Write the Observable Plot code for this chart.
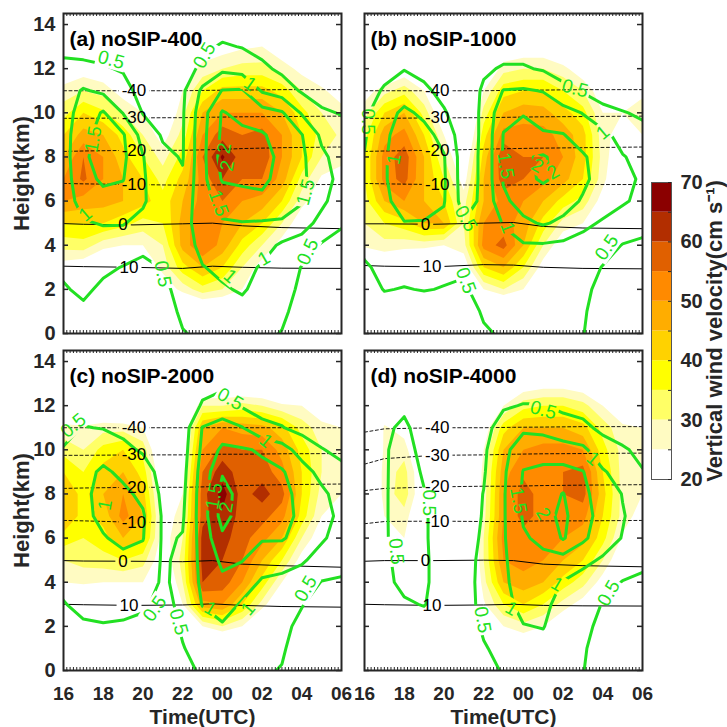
<!DOCTYPE html>
<html><head><meta charset="utf-8">
<script src="https://cdn.jsdelivr.net/npm/d3@7"></script>
<script src="https://cdn.jsdelivr.net/npm/@observablehq/plot@0.6"></script>
<style>
body{margin:0;background:#fff;}
#wrap{position:relative;width:727px;height:727px;overflow:hidden;background:#fff;font-family:"Liberation Sans",Arial,Helvetica,sans-serif;}
#wrap svg{position:absolute;overflow:visible;}
</style></head><body><div id="wrap"></div>
<script>
// ---------------- grid axes (hour of day, 24+ = next day; height km) ----------------
const times = [16,17,18,19,20,21,22,23,24,25,26,27,28,29,30];
const gridHeights = [0,1,2,3,4,5,6,7,8,9,10,11,12,13,14,15];

// ---------------- colour levels ----------------
const fillLevels = [25,30,35,40,45,50,55,60,65];
const fillColors = ["#ffffff","#fffbc2","#ffff66","#ffff00","#ffd200","#ffad00","#ff8a00","#e06000","#b22e00","#8b0000"];
const colorbarLevels = [20,25,30,35,40,45,50,55,60,65,70];
const colorbarLabels = [20,30,40,50,60,70];
const greenLevels = [0.5,1,1.5,2];

// ---------------- tick labels ----------------
const xTickTimes = [16,18,20,22,24,26,28,30];
const xTickLabels = ["16","18","20","22","00","02","04","06"];
const yTicks = [0,2,4,6,8,10,12,14];
const panelNames = ["(a) noSIP-400","(b) noSIP-1000","(c) noSIP-2000","(d) noSIP-4000"];

// ---------------- vertical wind velocity (cm/s); one list per hour, heights 0..15 km ----------------
const wA = [
 [5,8,12,22,32,40,50,50,45,40,33,27,20,10,5,0],
 [5,8,10,20,33,40,48,56,55,47,40,30,22,12,5,0],
 [5,6,8,15,27,40,47,50,50,45,36,28,20,10,5,0],
 [0,5,8,14,25,37,45,45,42,38,30,22,15,8,0,0],
 [0,5,10,18,25,33,42,40,35,30,25,18,12,5,0,0],
 [0,8,20,27,30,35,37,33,28,22,18,14,10,5,0,0],
 [5,12,27,38,47,47,45,42,37,32,28,25,20,10,0,0],
 [5,15,33,45,55,55,52,52,55,50,45,35,27,20,8,0],
 [5,15,30,40,48,50,55,60,66,58,50,42,30,22,10,0],
 [5,15,25,30,38,45,50,55,57,55,50,42,32,24,12,0],
 [0,10,18,22,30,40,48,55,58,57,50,42,32,25,12,0],
 [0,5,10,15,22,30,40,48,50,50,45,38,28,20,10,0],
 [0,0,5,10,15,20,27,33,40,40,37,30,23,15,5,0],
 [0,0,0,5,10,15,20,24,30,33,30,26,20,12,5,0],
 [0,0,0,5,8,12,18,22,27,29,27,22,15,10,5,0]];
const wB = [
 [0,0,5,15,26,30,33,35,35,33,28,22,10,5,0,0],
 [0,0,5,18,28,35,45,52,52,48,40,28,15,5,0,0],
 [0,0,5,15,27,38,50,57,58,52,45,33,20,5,0,0],
 [0,0,5,12,27,45,45,45,45,40,33,25,12,0,0,0],
 [0,0,5,10,25,45,40,35,30,25,18,10,5,0,0,0],
 [0,0,10,20,28,30,28,22,18,12,8,5,0,0,0,0],
 [0,8,25,40,52,50,45,45,42,38,32,25,15,5,0,0],
 [0,10,30,45,57,52,52,58,60,52,45,38,28,18,5,0],
 [0,8,25,35,45,48,50,55,55,52,48,40,30,20,5,0],
 [0,0,12,22,30,38,45,52,55,52,47,40,30,20,5,0],
 [0,0,5,12,20,28,38,47,50,48,42,35,27,15,5,0],
 [0,0,0,8,16,25,33,40,42,42,37,30,20,10,0,0],
 [0,0,0,0,5,12,22,27,28,27,25,20,12,5,0,0],
 [0,0,0,0,0,5,10,15,18,22,25,22,15,5,0,0],
 [0,0,0,0,0,5,10,15,20,25,27,24,15,5,0,0]];
const wC = [
 [0,0,5,15,25,30,38,45,45,40,33,27,15,5,0,0],
 [0,0,5,15,26,32,35,38,38,35,30,26,15,5,0,0],
 [0,0,5,12,25,33,38,42,45,42,37,28,15,5,0,0],
 [0,0,5,12,25,35,45,52,50,45,40,28,12,0,0,0],
 [0,0,5,10,25,32,42,45,42,38,33,25,10,0,0,0],
 [0,0,0,5,15,20,22,22,20,18,15,10,5,0,0,0],
 [0,0,10,25,30,32,30,27,25,22,20,18,10,5,0,0],
 [0,5,25,48,60,62,62,58,58,55,50,45,30,15,0,0],
 [0,8,30,50,58,60,62,64,67,63,57,50,30,15,5,0],
 [0,5,25,40,50,55,57,58,58,57,55,48,32,15,5,0],
 [0,0,12,28,38,45,52,57,62,58,55,47,30,15,5,0],
 [0,0,5,15,25,35,45,52,57,52,48,42,26,12,5,0],
 [0,0,0,8,15,22,30,38,40,40,38,33,25,15,0,0],
 [0,0,0,5,10,15,20,25,28,30,30,27,20,10,0,0],
 [0,0,0,0,5,10,15,22,25,28,28,25,18,8,0,0]];
const wD = [
 [0,0,0,0,0,0,5,10,12,12,10,5,0,0,0,0],
 [0,0,0,0,0,0,22,25,27,27,26,26,18,0,0,0],
 [0,0,0,0,0,5,25,28,33,32,28,22,10,0,0,0],
 [0,0,0,0,0,0,8,15,18,18,12,5,0,0,0,0],
 [0,0,0,0,0,0,0,0,0,0,0,0,0,0,0,0],
 [0,0,0,0,5,8,10,10,10,8,5,0,0,0,0,0],
 [0,5,18,24,28,30,30,28,27,27,25,20,10,0,0,0],
 [0,18,25,35,45,50,52,50,50,48,45,38,25,10,0,0],
 [0,18,28,40,48,52,53,57,57,54,50,45,33,20,5,0],
 [0,8,25,35,45,50,52,53,53,53,52,45,35,22,5,0],
 [0,5,18,28,38,45,50,52,55,55,52,45,35,22,5,0],
 [0,0,10,22,32,40,47,52,57,57,50,42,32,20,5,0],
 [0,0,5,12,22,30,37,40,42,40,37,33,25,15,0,0],
 [0,0,0,5,12,18,24,28,28,28,28,26,20,10,0,0],
 [0,0,0,0,5,10,18,22,25,27,27,25,18,8,0,0]];

// ---------------- green contour field; one list per hour, heights 0..15 km ----------------
const gA = [
 [0.2,0.3,0.45,0.6,0.7,0.75,0.8,0.8,0.8,0.8,0.8,0.75,0.6,0.4,0.2,0],
 [0.2,0.4,0.6,0.75,0.9,0.97,1.15,1.3,1.4,1.35,1.2,1.05,0.6,0.35,0.2,0],
 [0.1,0.2,0.4,0.6,0.85,1.02,1.3,1.6,1.75,1.7,1.55,0.9,0.55,0.3,0.15,0],
 [0.1,0.2,0.3,0.48,0.8,1.02,1.3,1.52,1.6,1.55,0.98,0.7,0.45,0.3,0.1,0],
 [0.1,0.2,0.3,0.4,0.6,0.9,1.05,1.05,1.02,0.8,0.48,0.3,0.2,0.1,0.1,0],
 [0.1,0.25,0.4,0.52,0.6,0.7,0.75,0.7,0.6,0.45,0.3,0.2,0.15,0.1,0,0],
 [0.47,0.6,0.65,0.7,0.75,0.8,0.7,0.55,0.47,0.46,0.45,0.42,0.3,0.1,0,0],
 [0.6,0.7,0.85,0.98,1.15,1.25,1.3,1.35,1.35,1.35,1.3,1.1,0.6,0.4,0.2,0],
 [0.6,0.8,0.95,1.1,1.3,1.45,1.7,2.05,2.2,2.1,2.05,1.52,0.9,0.55,0.3,0],
 [0.6,0.85,1.05,1.15,1.3,1.48,1.8,2.1,2.2,2.15,1.8,1.55,0.8,0.48,0.25,0],
 [0.6,0.7,0.85,0.95,1.2,1.45,1.9,2.1,2.15,2.05,1.7,0.95,0.6,0.35,0.2,0],
 [0.48,0.6,0.7,0.8,0.92,1.45,1.7,1.85,1.9,1.8,1.55,0.75,0.4,0.3,0.15,0],
 [0.2,0.3,0.4,0.48,0.8,1.2,1.55,1.6,1.6,1.52,0.95,0.45,0.3,0.2,0.1,0],
 [0.1,0.15,0.2,0.3,0.45,0.85,1.1,1.2,1.1,0.9,0.55,0.35,0.2,0.1,0,0],
 [0.1,0.1,0.15,0.2,0.35,0.55,0.75,0.85,0.8,0.65,0.48,0.3,0.15,0.1,0,0]];
const gB = [
 [0.1,0.2,0.3,0.45,0.6,0.65,0.65,0.6,0.52,0.45,0.4,0.3,0.2,0.1,0,0],
 [0.1,0.3,0.52,0.6,0.7,0.8,0.9,0.95,0.95,0.9,0.8,0.55,0.35,0.2,0.1,0],
 [0.1,0.25,0.48,0.65,0.85,0.98,1.2,1.3,1.3,1.25,1.1,0.75,0.48,0.3,0.1,0],
 [0.1,0.25,0.52,0.65,0.8,0.97,1.2,1.3,1.25,1.15,0.9,0.6,0.35,0.2,0.1,0],
 [0.1,0.3,0.48,0.6,0.75,0.9,1.03,1.06,1.03,0.85,0.55,0.35,0.2,0.1,0,0],
 [0.15,0.3,0.45,0.55,0.6,0.52,0.3,0.25,0.25,0.2,0.2,0.15,0.1,0.05,0,0],
 [0.45,0.55,0.65,0.72,0.78,0.78,0.6,0.6,0.6,0.6,0.6,0.58,0.42,0.2,0.1,0],
 [0.55,0.6,0.7,0.8,0.9,1.02,1.4,1.55,1.55,1.52,1.35,1.02,0.55,0.3,0.1,0],
 [0.6,0.65,0.75,0.85,0.95,1.4,1.7,1.9,1.95,1.8,1.45,1.05,0.55,0.3,0.1,0],
 [0.6,0.65,0.75,0.85,0.95,1.55,1.8,2.05,2.05,1.55,1.3,0.98,0.45,0.25,0.1,0],
 [0.6,0.65,0.7,0.8,0.9,1.4,1.7,1.9,1.8,1.52,1.2,0.6,0.35,0.2,0.1,0],
 [0.52,0.55,0.58,0.7,0.85,1.1,1.45,1.6,1.55,1.3,0.98,0.45,0.3,0.15,0,0],
 [0.2,0.3,0.4,0.48,0.7,0.95,1.2,1.3,1.3,1.15,0.6,0.35,0.2,0.1,0,0],
 [0.1,0.15,0.25,0.35,0.48,0.8,1.05,1.1,1.03,0.8,0.52,0.3,0.15,0.1,0,0],
 [0.1,0.1,0.2,0.3,0.42,0.65,0.9,0.95,0.85,0.6,0.45,0.25,0.1,0.05,0,0]];
const gC = [
 [0.1,0.2,0.35,0.48,0.6,0.7,0.75,0.8,0.8,0.75,0.52,0.4,0.25,0.1,0,0],
 [0.1,0.25,0.45,0.6,0.7,0.8,0.85,0.9,0.9,0.85,0.7,0.52,0.3,0.15,0,0],
 [0.1,0.25,0.48,0.6,0.7,0.85,0.97,1.1,1.15,1.08,0.8,0.48,0.3,0.15,0,0],
 [0.1,0.25,0.46,0.6,0.75,0.9,1.1,1.2,1.1,0.9,0.6,0.4,0.2,0.1,0,0],
 [0.1,0.25,0.42,0.55,0.7,0.85,1.02,1.05,0.9,0.7,0.45,0.3,0.15,0.1,0,0],
 [0.1,0.2,0.3,0.4,0.45,0.45,0.45,0.45,0.4,0.35,0.3,0.2,0.1,0.05,0,0],
 [0.4,0.48,0.55,0.58,0.6,0.58,0.52,0.45,0.4,0.35,0.3,0.25,0.15,0.1,0,0],
 [0.55,0.65,0.8,1.02,1.1,1.15,1.2,1.25,1.25,1.2,1.1,1.02,0.55,0.35,0.15,0],
 [0.6,0.8,0.95,1.2,1.4,1.6,1.9,2.2,2.2,1.95,1.6,1.2,0.7,0.4,0.2,0],
 [0.6,0.7,0.85,0.95,1.2,1.52,1.7,1.75,1.8,1.75,1.55,1.02,0.45,0.3,0.1,0],
 [0.55,0.6,0.7,0.8,0.95,1.2,1.55,1.6,1.65,1.6,1.45,0.6,0.35,0.2,0.1,0],
 [0.48,0.55,0.6,0.7,0.9,1.15,1.55,1.65,1.65,1.55,1.2,0.52,0.3,0.2,0.1,0],
 [0.2,0.3,0.4,0.52,0.8,1.05,1.3,1.4,1.35,1.2,0.8,0.35,0.2,0.1,0,0],
 [0.1,0.15,0.25,0.35,0.48,0.85,1.05,1.15,1.1,0.85,0.52,0.3,0.15,0.05,0,0],
 [0.1,0.1,0.2,0.3,0.45,0.65,0.85,0.9,0.8,0.6,0.4,0.25,0.1,0,0,0]];
const gD = [
 [0.1,0.1,0.15,0.3,0.45,0.4,0.3,0.3,0.3,0.3,0.25,0.2,0.1,0,0,0],
 [0.1,0.15,0.2,0.3,0.4,0.42,0.45,0.45,0.45,0.45,0.45,0.4,0.3,0.1,0,0],
 [0.1,0.2,0.3,0.45,0.6,0.65,0.7,0.72,0.72,0.7,0.68,0.6,0.4,0.2,0,0],
 [0.1,0.2,0.3,0.52,0.55,0.55,0.55,0.55,0.52,0.45,0.35,0.25,0.15,0.1,0,0],
 [0.1,0.15,0.2,0.3,0.35,0.35,0.3,0.3,0.25,0.2,0.15,0.1,0.1,0.05,0,0],
 [0.2,0.25,0.3,0.35,0.35,0.35,0.35,0.35,0.3,0.3,0.25,0.2,0.15,0.1,0,0],
 [0.42,0.47,0.55,0.6,0.62,0.6,0.55,0.52,0.51,0.46,0.43,0.35,0.25,0.1,0,0],
 [0.52,0.6,0.7,0.85,0.9,0.92,0.95,0.95,0.95,0.92,0.85,0.7,0.45,0.25,0.1,0],
 [0.6,0.8,0.98,1.15,1.25,1.35,1.45,1.55,1.58,1.52,1.3,0.9,0.52,0.3,0.1,0],
 [0.6,0.85,1.02,1.1,1.2,1.4,1.6,1.85,1.75,1.6,1.3,0.85,0.52,0.3,0.1,0],
 [0.55,0.65,0.75,0.85,0.98,1.3,2.05,2.1,2.02,1.65,1.2,0.7,0.4,0.2,0.1,0],
 [0.52,0.55,0.6,0.7,0.85,1.1,1.6,1.7,1.6,1.52,1.1,0.6,0.35,0.2,0.1,0],
 [0.2,0.3,0.4,0.48,0.7,0.95,1.2,1.3,1.3,1.05,0.7,0.4,0.2,0.1,0,0],
 [0.1,0.15,0.25,0.35,0.48,0.75,0.98,1.03,0.98,0.8,0.55,0.3,0.15,0.05,0,0],
 [0.1,0.1,0.2,0.3,0.42,0.6,0.75,0.8,0.75,0.52,0.4,0.2,0.1,0,0,0]];

// ---------------- isotherms (deg C): heights (km) at isoTimes ----------------
const isoLevels = [10,0,-10,-20,-30,-40];
const isoTimes = [16,17,19.5,22,23.5,25,27,30];
const isoA = [
 [3.05,3.03,3.0,2.95,3.05,3.0,2.96,2.95],
 [4.98,4.95,4.92,4.97,5.0,4.88,4.8,4.75],
 [6.8,6.78,6.75,6.72,6.73,6.75,6.75,6.75],
 [8.25,8.27,8.3,8.3,8.33,8.38,8.42,8.45],
 [9.75,9.75,9.77,9.78,9.8,9.82,9.83,9.85],
 [11.0,11.0,11.0,11.0,11.02,11.03,11.05,11.05]];
const isoB = [
 [3.08,3.05,3.02,3.12,3.1,3.0,2.95,2.93],
 [4.97,4.97,4.95,5.0,5.03,4.85,4.78,4.75],
 [6.8,6.78,6.75,6.72,6.73,6.75,6.75,6.75],
 [8.25,8.27,8.3,8.35,8.38,8.4,8.42,8.45],
 [9.75,9.75,9.77,9.78,9.8,9.82,9.83,9.85],
 [11.0,11.0,11.0,11.0,11.02,11.03,11.05,11.05]];
const isoC = [
 [3.0,2.98,2.95,2.97,3.02,2.95,2.9,2.87],
 [4.98,4.96,4.95,4.93,4.98,4.82,4.75,4.68],
 [6.8,6.78,6.72,6.7,6.73,6.75,6.75,6.75],
 [8.25,8.27,8.3,8.3,8.33,8.38,8.42,8.45],
 [9.75,9.75,9.77,9.77,9.8,9.8,9.82,9.83],
 [11.0,11.0,11.0,11.0,11.0,11.0,11.0,11.0]];
const isoD = [
 [3.0,2.98,2.95,2.97,3.0,2.95,2.93,2.92],
 [4.95,4.98,4.98,5.0,4.98,4.82,4.75,4.7],
 [6.65,6.75,6.77,6.75,6.75,6.78,6.78,6.8],
 [8.15,8.25,8.32,8.35,8.35,8.38,8.4,8.42],
 [9.35,9.6,9.75,9.77,9.8,9.82,9.83,9.85],
 [10.8,10.95,11.0,11.0,11.02,11.03,11.05,11.05]];
const isoLabelTimesAC = [19.3,19.0,19.55,19.55,19.55,19.55];
const isoLabelTimesBD = [19.4,19.07,19.66,19.66,19.66,19.66];

// ---------------- green contour labels ----------------
const labA_t = [18.4,23.1,17.5,17.1,25.4,24.1,24.25,23.8,28.2,24.4,26.1,21.0,28.3];
const labA_h = [12.4,12.6,8.8,5.4,11.3,8.4,7.6,5.9,6.4,2.6,3.4,2.7,3.7];
const labA_s = ["0.5","0.5","1.5","1","1","2","2","1.5","1.5","1","1","0.5","0.5"];
const labA_r = [15,-60,-80,-40,35,-80,-80,70,-75,40,-30,80,-65];
const labB_t = [16.2,17.5,21.1,21.1,23.1,24.7,25.5,26.6,28.0,23.2,28.2];
const labB_h = [9.6,7.9,5.2,2.4,7.6,7.6,7.3,11.1,9.1,4.8,3.9];
const labB_s = ["0.5","1","0.5","0.5","1.5","2","2","0.5","1","1","0.5"];
const labB_r = [90,-80,60,70,80,30,-30,15,-40,70,-55];
const labC_t = [16.5,18.1,20.6,21.8,23.6,24.2,24.4,26.2,23.4,25.3,28.2];
const labC_h = [11.1,7.5,2.8,2.2,7.9,7.4,12.3,10.4,2.8,2.8,3.7];
const labC_s = ["0.5","1","0.5","0.5","1.5","2","0.5","1","1","1","0.5"];
const labC_r = [-40,-80,-55,75,-80,-80,30,40,30,-50,-60];
const labD_t = [17.6,19.25,21.95,25.0,27.5,23.75,25.0,23.4,25.7,28.3];
const labD_h = [5.4,7.6,2.3,11.8,9.6,7.7,7.1,2.8,3.9,3.5];
const labD_s = ["0.5","0.5","0.5","0.5","1","1.5","2","1","1","0.5"];
const labD_r = [85,90,80,15,40,80,60,30,30,-60];

// ---------------- drawing ----------------
const FONT = '"Liberation Sans", Arial, Helvetica, sans-serif';
const INK = "#262626";
const GREEN = "#22e022";
const PW = 278, PH = 320;
const M = {left: 70, right: 14, top: 10, bottom: 62};
const wrap = document.getElementById("wrap");

function toGrid(cols) {
  const out = [];
  for (let h = 0; h < gridHeights.length; h++) for (let c = 0; c < times.length; c++) out.push(cols[c][h]);
  return out;
}

const panels = [
  {name: panelNames[0], w: wA, g: gA, iso: isoA, isoT: isoLabelTimesAC, lt: labA_t, lh: labA_h, ls: labA_s, lr: labA_r, left: 63, top: 13, yAxis: true, xAxis: false},
  {name: panelNames[1], w: wB, g: gB, iso: isoB, isoT: isoLabelTimesBD, lt: labB_t, lh: labB_h, ls: labB_s, lr: labB_r, left: 364, top: 13, yAxis: false, xAxis: false},
  {name: panelNames[2], w: wC, g: gC, iso: isoC, isoT: isoLabelTimesAC, lt: labC_t, lh: labC_h, ls: labC_s, lr: labC_r, left: 63, top: 350, yAxis: true, xAxis: true},
  {name: panelNames[3], w: wD, g: gD, iso: isoD, isoT: isoLabelTimesBD, lt: labD_t, lh: labD_h, ls: labD_s, lr: labD_r, left: 364, top: 350, yAxis: false, xAxis: true}
];

const xMinor = d3.range(0, 85).map(i => 16 + i / 6);

function buildPanel(p) {
  const flatW = toGrid(p.w), flatG = toGrid(p.g);
  const grid = {width: times.length, height: gridHeights.length,
    x1: times[0] - 0.5, x2: times[times.length - 1] + 0.5,
    y1: gridHeights[0] - 0.5, y2: gridHeights[gridHeights.length - 1] + 0.5};
  const marks = [];
  fillLevels.forEach((t, i) => marks.push(Plot.contour(flatW, {...grid, value: d => d, thresholds: [t], fill: fillColors[i + 1], stroke: "none", clip: true})));
  const isoRows = [];
  isoLevels.forEach((lv, k) => isoTimes.forEach((t, j) => isoRows.push({t, h: p.iso[k][j], lv})));
  marks.push(Plot.line(isoRows.filter(r => r.lv >= 0), {x: "t", y: "h", z: "lv", stroke: "#000", strokeWidth: 1, clip: true, ariaDescription: "isotherm"}));
  marks.push(Plot.line(isoRows.filter(r => r.lv < 0), {x: "t", y: "h", z: "lv", stroke: "#000", strokeWidth: 0.9, strokeDasharray: "3,2.5", clip: true, ariaDescription: "isotherm"}));
  marks.push(Plot.contour(flatG, {...grid, value: d => d, thresholds: greenLevels, fill: "none", stroke: GREEN, strokeWidth: 3, strokeLinejoin: "round", clip: true, ariaDescription: "greencontour"}));
  marks.push(Plot.text(isoLevels.map((lv, k) => ({t: p.isoT[k], h: p.iso[k][2], s: String(lv)})), {x: "t", y: "h", text: "s", fontSize: 17, fill: "#000", ariaDescription: "isolabel"}));
  marks.push(Plot.text(p.lt.map((t, i) => ({t, h: p.lh[i], s: p.ls[i], r: p.lr[i]})), {x: "t", y: "h", text: "s", rotate: "r", fontSize: 19, fill: GREEN, ariaDescription: "greenlabel"}));
  marks.push(Plot.frame({stroke: INK, strokeWidth: 2}));
  marks.push(Plot.tickY(yTicks, {y: d => d, insetRight: PW - 5, stroke: INK, strokeWidth: 1.5}));
  marks.push(Plot.tickY(yTicks, {y: d => d, insetLeft: PW - 5, stroke: INK, strokeWidth: 1.5}));
  marks.push(Plot.tickX(xMinor, {x: d => d, insetBottom: PH - 3, stroke: INK, strokeWidth: 1}));
  marks.push(Plot.tickX(xMinor, {x: d => d, insetTop: PH - 3, stroke: INK, strokeWidth: 1}));
  marks.push(Plot.text([p.name], {text: d => d, frameAnchor: "top-left", dx: 6, dy: 18, lineAnchor: "top", textAnchor: "start", fontWeight: "bold", fontSize: 21, fill: "#000"}));
  if (p.yAxis) {
    marks.push(Plot.text(yTicks, {x: times[0], y: d => d, text: d => String(d), textAnchor: "end", dx: -8, fontWeight: "bold", fontSize: 20, fill: INK}));
    marks.push(Plot.text(["Height(km)"], {text: d => d, frameAnchor: "left", dx: -41.5, rotate: -90, textAnchor: "middle", lineAnchor: "middle", fontWeight: "bold", fontSize: 22, fill: INK}));
  }
  if (p.xAxis) {
    marks.push(Plot.text(xTickTimes, {x: d => d, y: 0, text: (d, i) => xTickLabels[i], dy: 23, fontWeight: "bold", fontSize: 19, fill: INK}));
    marks.push(Plot.text(["Time(UTC)"], {text: d => d, frameAnchor: "bottom", dy: 47, textAnchor: "middle", lineAnchor: "middle", fontWeight: "bold", fontSize: 21, fill: INK}));
  }
  const svg = Plot.plot({
    width: PW + M.left + M.right, height: PH + M.top + M.bottom,
    marginLeft: M.left, marginRight: M.right, marginTop: M.top, marginBottom: M.bottom,
    x: {domain: [16, 30], axis: null},
    y: {domain: [0, 14.5], axis: null},
    style: {background: "transparent", fontFamily: FONT, overflow: "visible"},
    marks
  });
  svg.style.left = (p.left - M.left) + "px";
  svg.style.top = (p.top - M.top) + "px";
  wrap.appendChild(svg);
  return svg;
}

let maskCount = 0;
function gapMask(svg, lineDesc, textDesc, padX, padY) {
  const ns = "http://www.w3.org/2000/svg";
  const targets = svg.querySelectorAll(`g[aria-description="${lineDesc}"]`);
  const texts = svg.querySelectorAll(`g[aria-description="${textDesc}"] text`);
  if (!targets.length || !texts.length) return;
  const W = +svg.getAttribute("width"), H = +svg.getAttribute("height");
  const id = "gapmask" + (maskCount++);
  const mask = document.createElementNS(ns, "mask");
  mask.setAttribute("id", id);
  mask.setAttribute("maskUnits", "userSpaceOnUse");
  mask.setAttribute("x", -200); mask.setAttribute("y", -200);
  mask.setAttribute("width", W + 400); mask.setAttribute("height", H + 400);
  const bg = document.createElementNS(ns, "rect");
  bg.setAttribute("x", -200); bg.setAttribute("y", -200);
  bg.setAttribute("width", W + 400); bg.setAttribute("height", H + 400);
  bg.setAttribute("fill", "white");
  mask.appendChild(bg);
  const inv = svg.getScreenCTM().inverse();
  texts.forEach(t => {
    const b = t.getBBox();
    const m = inv.multiply(t.getScreenCTM());
    const r = document.createElementNS(ns, "rect");
    r.setAttribute("x", b.x - padX); r.setAttribute("y", b.y - padY);
    r.setAttribute("width", b.width + 2 * padX); r.setAttribute("height", b.height + 2 * padY);
    r.setAttribute("fill", "black");
    r.setAttribute("transform", `matrix(${m.a},${m.b},${m.c},${m.d},${m.e},${m.f})`);
    mask.appendChild(r);
  });
  const defs = document.createElementNS(ns, "defs");
  defs.appendChild(mask);
  svg.insertBefore(defs, svg.firstChild);
  targets.forEach(g => {
    const w = document.createElementNS(ns, "g");
    w.setAttribute("mask", `url(#${id})`);
    g.parentNode.insertBefore(w, g);
    w.appendChild(g);
  });
}

panels.forEach(p => {
  const svg = buildPanel(p);
  try { gapMask(svg, "isotherm", "isolabel", 3, 0); } catch (e) { console.error(e); }
  try { gapMask(svg, "greencontour", "greenlabel", 2, -1); } catch (e) { console.error(e); }
});

// ---------------- colour bar ----------------
const CB = {left: 651, top: 182, w: 20, h: 297};
const CM = {left: 10, right: 60, top: 10, bottom: 10};
const bands = fillColors.map((c, i) => ({lo: colorbarLevels[i], hi: colorbarLevels[i + 1], c}));
const cb = Plot.plot({
  width: CB.w + CM.left + CM.right, height: CB.h + CM.top + CM.bottom,
  marginLeft: CM.left, marginRight: CM.right, marginTop: CM.top, marginBottom: CM.bottom,
  x: {domain: [0, 1], axis: null},
  y: {domain: [20, 70], axis: null},
  style: {background: "transparent", fontFamily: FONT, overflow: "visible"},
  marks: [
    Plot.rect(bands, {x1: 0, x2: 1, y1: "lo", y2: "hi", fill: d => d.c}),
    Plot.frame({stroke: "#555", strokeWidth: 1}),
    Plot.tickY(colorbarLevels, {y: d => d, insetLeft: CB.w - 3, stroke: INK, strokeWidth: 1}),
    Plot.text(colorbarLabels, {x: 1, y: d => d, text: d => String(d), dx: 9, textAnchor: "start", fontWeight: "bold", fontSize: 20, fill: INK}),
    Plot.text(["Vertical wind velocity(cm s\u207B\u00B9)"], {text: d => d, frameAnchor: "right", dx: 43, rotate: -90, textAnchor: "middle", lineAnchor: "middle", fontWeight: "bold", fontSize: 22, fill: INK})
  ]
});
cb.style.left = (CB.left - CM.left) + "px";
cb.style.top = (CB.top - CM.top) + "px";
wrap.appendChild(cb);
</script></body></html>
